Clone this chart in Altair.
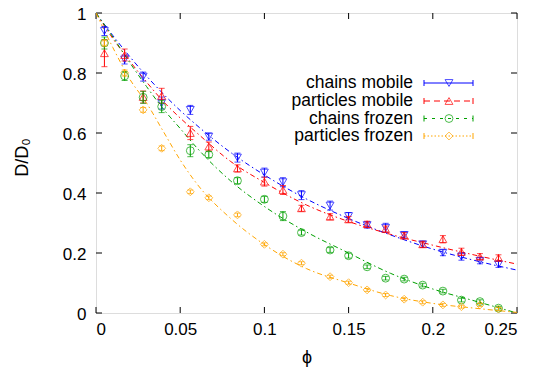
import altair as alt
import pandas as pd

# ---------------- data ----------------
phi = [0.005, 0.017, 0.028, 0.039, 0.056, 0.067, 0.084, 0.1, 0.111, 0.122,
       0.139, 0.15, 0.161, 0.172, 0.183, 0.194, 0.206, 0.217, 0.228, 0.239]

chains_mobile = [0.94, 0.845, 0.788, 0.70, 0.677, 0.588, 0.518, 0.468, 0.436, 0.393,
                 0.358, 0.323, 0.293, 0.284, 0.26, 0.229, 0.201, 0.188, 0.174, 0.162]
chains_mobile_err = [0.015, 0.015, 0.015, 0.02, 0.015, 0.012, 0.015, 0.015, 0.015, 0.015,
                     0.015, 0.012, 0.01, 0.015, 0.01, 0.01, 0.01, 0.012, 0.01, 0.01]

particles_mobile = [0.866, 0.86, 0.72, 0.724, 0.60, 0.555, 0.482, 0.438, 0.41, 0.349,
                    0.321, 0.312, 0.296, 0.28, 0.258, 0.229, 0.246, 0.204, 0.188, 0.184]
particles_mobile_err = [0.045, 0.02, 0.02, 0.025, 0.022, 0.015, 0.012, 0.015, 0.015, 0.01,
                        0.01, 0.01, 0.01, 0.01, 0.01, 0.01, 0.012, 0.012, 0.01, 0.01]

chains_frozen = [0.90, 0.79, 0.719, 0.688, 0.541, 0.528, 0.441, 0.379, 0.323, 0.268,
                 0.21, 0.191, 0.154, 0.116, 0.113, 0.093, 0.073, 0.043, 0.038, 0.016]
chains_frozen_err = [0.02, 0.015, 0.02, 0.02, 0.02, 0.01, 0.01, 0.01, 0.015, 0.008,
                     0.008, 0.008, 0.006, 0.006, 0.006, 0.006, 0.006, 0.006, 0.006, 0.006]

particles_frozen = [0.90, 0.80, 0.677, 0.549, 0.404, 0.384, 0.327, 0.229, 0.196, 0.166,
                    0.121, 0.101, 0.077, 0.06, 0.046, 0.036, 0.027, 0.021, 0.027, 0.013]
particles_frozen_err = [0.01, 0.01, 0.008, 0.008, 0.006, 0.006, 0.006, 0.005, 0.005, 0.005,
                        0.005, 0.005, 0.005, 0.005, 0.005, 0.005, 0.005, 0.005, 0.005, 0.005]

# fitted curves
fit_phi = [0, 0.01, 0.02, 0.03, 0.04, 0.05, 0.06, 0.08, 0.1, 0.125, 0.15, 0.175, 0.2, 0.225, 0.25]
fit_chains_mobile = [1, 0.925, 0.855, 0.79, 0.73, 0.675, 0.625, 0.535, 0.46, 0.38, 0.315, 0.26, 0.213, 0.175, 0.143]
fit_particles_mobile = [1, 0.915, 0.84, 0.77, 0.705, 0.65, 0.6, 0.505, 0.435, 0.36, 0.305, 0.262, 0.226, 0.193, 0.163]
fit_chains_frozen = [1, 0.92, 0.835, 0.755, 0.68, 0.615, 0.55, 0.44, 0.355, 0.27, 0.2, 0.132, 0.08, 0.04, 0.0]
fit_particles_frozen = [1, 0.885, 0.78, 0.70, 0.605, 0.51, 0.43, 0.315, 0.228, 0.148, 0.1, 0.058, 0.032, 0.016, 0.002]

labels = ["chains mobile", "particles mobile", "chains frozen", "particles frozen"]
colors = ["#0000ff", "#ff0000", "#00a000", "#ffa500"]
shapes = ["triangle-down", "triangle-up", "circle", "diamond"]
legend_dash = [[1, 0], [6, 4], [3, 5], [1.5, 2]]

x_ticks = [0, 0.05, 0.1, 0.15, 0.2, 0.25]
y_ticks = [0, 0.2, 0.4, 0.6, 0.8, 1]

series_vals = [chains_mobile, particles_mobile, chains_frozen, particles_frozen]
series_err = [chains_mobile_err, particles_mobile_err, chains_frozen_err, particles_frozen_err]
series_fit = [fit_chains_mobile, fit_particles_mobile, fit_chains_frozen, fit_particles_frozen]

# ---------------- chart ----------------
W, H = 421, 300
FONT = "Liberation Sans"
MS = 62

xs = alt.Scale(domain=[0, 0.25], nice=False, zero=False)
ys = alt.Scale(domain=[0, 1], nice=False, zero=False)

layers = []

# base axes layer
axes_df = pd.DataFrame({"x": [0], "y": [0]})
axes = alt.Chart(axes_df).mark_point(opacity=0).encode(
    x=alt.X("x:Q", scale=xs,
            axis=alt.Axis(values=x_ticks, format="~g", ticks=False, domain=False, grid=False,
                          labelPadding=8, labelFontSize=17, labelFont=FONT, labelColor="black",
                          title="ϕ", titleFont=FONT, titleFontSize=18, titleFontWeight="normal",
                          titleColor="black", titleX=W / 2, titleY=53, titleBaseline="bottom")),
    y=alt.Y("y:Q", scale=ys,
            axis=alt.Axis(values=y_ticks, format="~g", ticks=False, domain=False, grid=False,
                          labelPadding=10, labelFontSize=17, labelFont=FONT, labelColor="black",
                          labelBaseline="middle", labelOffset=1.5,
                          title="D/D₀", titleFont=FONT, titleFontSize=18, titleFontWeight="normal",
                          titleColor="black", titleX=-74, titleY=H / 2 - 6, titleAngle=270,
                          titleAlign="center", titleBaseline="middle")),
)
layers.append(axes)

# inward ticks on all four sides
xt = pd.DataFrame({"v": x_ticks})
yt = pd.DataFrame({"v": y_ticks})
TL = 6
for y1, y2 in [(H, H - TL), (0, TL)]:
    layers.append(alt.Chart(xt).mark_rule(color="black", strokeWidth=1).encode(
        x=alt.X("v:Q", scale=xs), y=alt.value(y1), y2=alt.value(y2)))
for x1, x2 in [(0, TL), (W, W - TL)]:
    layers.append(alt.Chart(yt).mark_rule(color="black", strokeWidth=1).encode(
        y=alt.Y("v:Q", scale=ys), x=alt.value(x1), x2=alt.value(x2)))

# fit lines
for lab, col, fit in zip(labels, colors, series_fit):
    fdf = pd.DataFrame({"phi": fit_phi, "D": fit})
    layers.append(alt.Chart(fdf).mark_line(color=col, strokeWidth=1, strokeDash=[5, 3, 1.5, 3],
                                           interpolate="monotone", clip=True).encode(
        x=alt.X("phi:Q", scale=xs), y=alt.Y("D:Q", scale=ys)))

# data with error bars
for lab, col, shp, vals, err in zip(labels, colors, shapes, series_vals, series_err):
    df = pd.DataFrame({"phi": phi, "D": vals,
                       "lo": [v - e for v, e in zip(vals, err)],
                       "hi": [v + e for v, e in zip(vals, err)]})
    base = alt.Chart(df)
    layers.append(base.mark_rule(color=col, strokeWidth=1, clip=True).encode(
        x=alt.X("phi:Q", scale=xs), y=alt.Y("lo:Q", scale=ys), y2="hi:Q"))
    for end in ["lo", "hi"]:
        layers.append(base.mark_tick(color=col, orient="horizontal", size=6, thickness=1, clip=True).encode(
            x=alt.X("phi:Q", scale=xs), y=alt.Y(f"{end}:Q", scale=ys)))
    layers.append(base.mark_point(shape=shp, color=col, filled=False, size=MS, strokeWidth=1, clip=True).encode(
        x=alt.X("phi:Q", scale=xs), y=alt.Y("D:Q", scale=ys)))

# legend (drawn by hand)
row_y = [70, 88, 105.5, 123]
for lab, col, shp, dash, yy in zip(labels, colors, shapes, legend_dash, row_y):
    ldf = pd.DataFrame({"label": [lab]})
    lb = alt.Chart(ldf)
    layers.append(lb.mark_text(align="right", baseline="middle", font=FONT, fontSize=17.5, color="black").encode(
        text="label:N", x=alt.value(317), y=alt.value(yy)))
    layers.append(lb.mark_rule(color=col, strokeWidth=1, strokeDash=dash).encode(
        x=alt.value(328), x2=alt.value(377), y=alt.value(yy)))
    for cx in [328, 377]:
        layers.append(lb.mark_rule(color=col, strokeWidth=1).encode(
            x=alt.value(cx), y=alt.value(yy - 3), y2=alt.value(yy + 3)))
    layers.append(lb.mark_point(shape=shp, color=col, filled=False, size=MS, strokeWidth=1).encode(
        x=alt.value(353), y=alt.value(yy)))

chart = alt.layer(*layers).properties(
    width=W, height=H,
    autosize=alt.AutoSizeParams(type="none"),
    padding={"left": 88, "top": 5, "right": 19, "bottom": 54},
).configure_view(stroke="black", strokeWidth=1.5).configure(background="white")

chart.save("out.html", embed_options={"renderer": "svg", "actions": False})
